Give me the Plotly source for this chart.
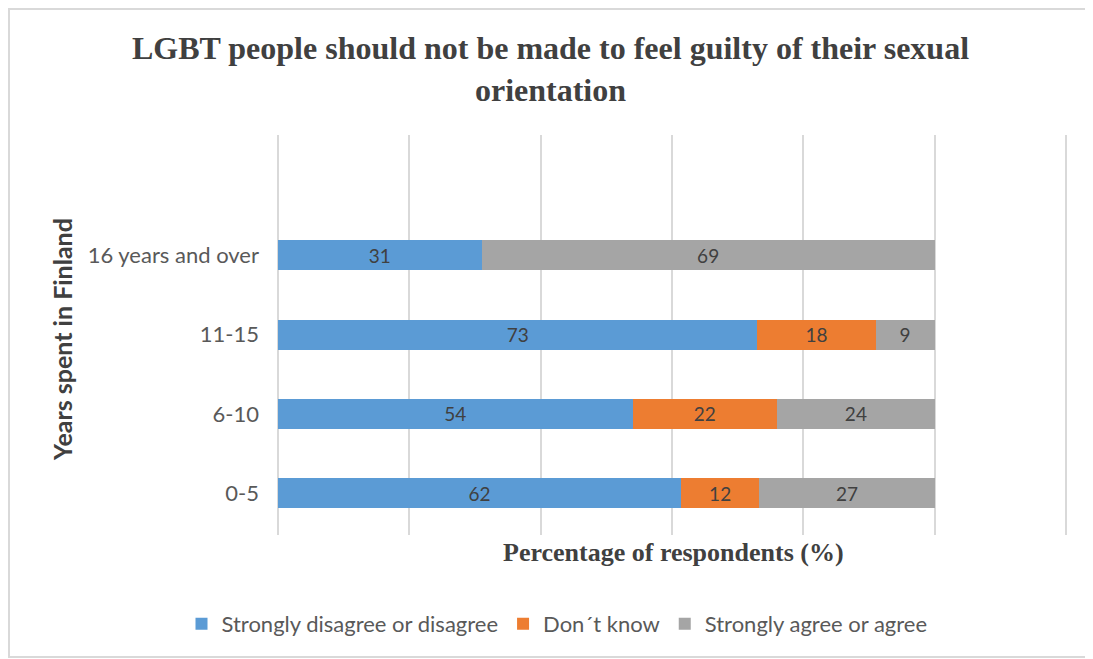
import plotly.graph_objects as go

# survey data
categories = ["0-5", "6-10", "11-15", "16 years and over"]
disagree = [62, 54, 73, 31]
dont_know = [12, 22, 18, 0]
agree = [27, 24, 9, 69]

series_names = ["Strongly disagree or disagree", "Don\u00b4t know", "Strongly agree or agree"]
colors = ["#5B9BD5", "#ED7D31", "#A5A5A5"]

# page body adds an 8px offset, so the figure is 8px smaller than the window
W, H = 1085, 651

fig = go.Figure()

for name, vals, col in zip(series_names, [disagree, dont_know, agree], colors):
    fig.add_trace(
        go.Bar(
            y=categories,
            x=vals,
            name=name,
            orientation="h",
            marker=dict(color=col, line=dict(width=0)),
            text=[str(v) if v else "" for v in vals],
            textposition="inside",
            insidetextanchor="middle",
            textangle=0,
            constraintext="none",
            textfont=dict(family="Lato", size=19, color="#404040"),
            width=0.38,
        )
    )

fig.update_layout(
    barmode="stack",
    barnorm="percent",
    width=W,
    height=H,
    paper_bgcolor="white",
    plot_bgcolor="white",
    margin=dict(l=270, r=25, t=127, b=124, autoexpand=False),
    title=dict(
        text="LGBT people should not be made to feel guilty of their sexual<br>orientation",
        x=0.5,
        xanchor="center",
        y=1 - 51 / H,
        yanchor="middle",
        font=dict(family="Liberation Serif", size=32, color="#404040", weight="bold"),
    ),
    xaxis=dict(
        range=[0, 120.3],
        dtick=20,
        showgrid=True,
        gridcolor="#D9D9D9",
        gridwidth=1.5,
        zeroline=True,
        zerolinecolor="#D9D9D9",
        zerolinewidth=1.5,
        showticklabels=False,
        showline=False,
        automargin=False,
    ),
    yaxis=dict(
        range=[-0.53, 4.52],
        showgrid=False,
        showline=False,
        zeroline=False,
        ticks="",
        ticklabelstandoff=18,
        automargin=False,
        tickfont=dict(family="Lato", size=22, color="#595959"),
    ),
    legend=dict(
        orientation="h",
        x=(557 - 278) / 790,
        xanchor="center",
        y=(535 - 624) / 400,
        yanchor="middle",
        font=dict(family="Lato", size=22, color="#595959"),
        traceorder="normal",
        itemwidth=30,
    ),
    showlegend=True,
)

# axis titles
fig.add_annotation(
    text="Percentage of respondents (%)",
    xref="paper", yref="paper",
    x=0.5, y=(535 - 552) / 400,
    xanchor="center", yanchor="middle",
    showarrow=False,
    font=dict(family="Liberation Serif", size=26, color="#404040", weight="bold"),
)
fig.add_annotation(
    text="Years spent in Finland",
    xref="paper", yref="paper",
    x=(62 - 278) / 790, y=(535 - 340) / 400,
    xanchor="center", yanchor="middle",
    textangle=-90,
    showarrow=False,
    font=dict(family="Lato", size=25, color="#404040", weight="bold"),
)

# light frame around the whole chart
fig.add_shape(
    type="rect",
    xref="paper", yref="paper",
    x0=(9 - 278) / 790, x1=(1091 - 278) / 790,
    y0=(535 - 657) / 400, y1=(535 - 9) / 400,
    line=dict(color="#D9D9D9", width=2),
    fillcolor="rgba(0,0,0,0)",
    layer="below",
)

fig.write_html("out.html")
